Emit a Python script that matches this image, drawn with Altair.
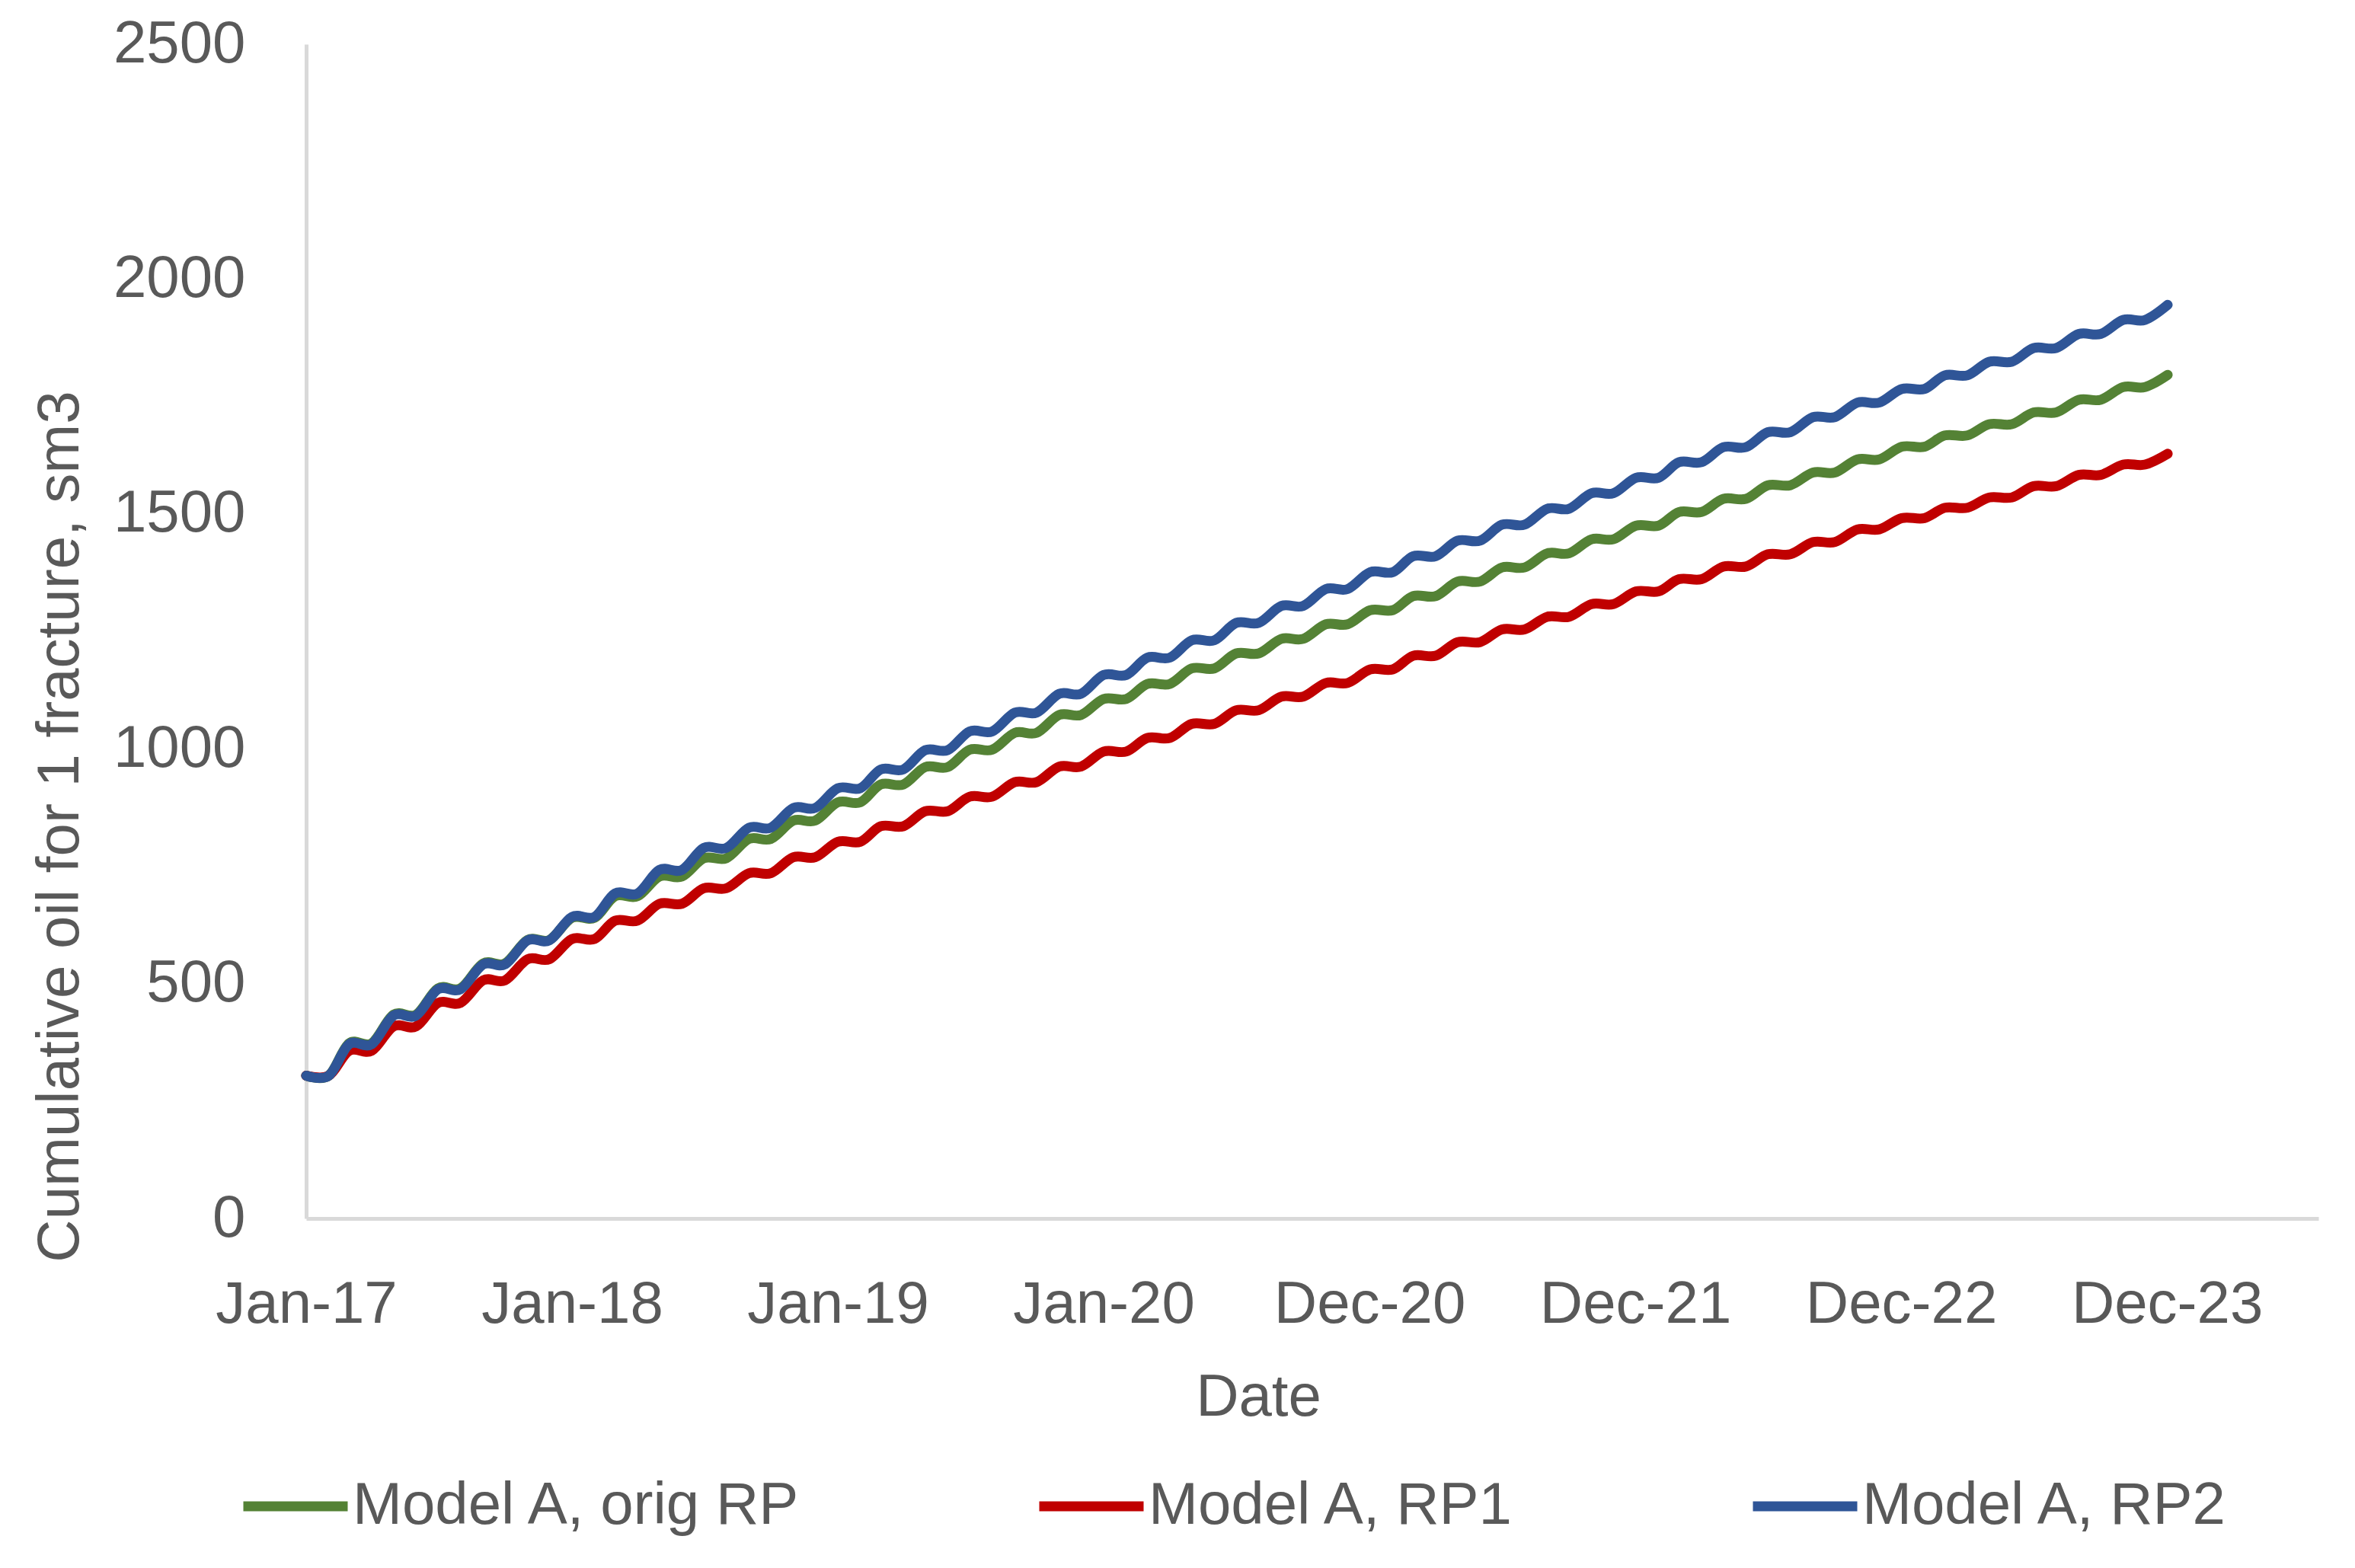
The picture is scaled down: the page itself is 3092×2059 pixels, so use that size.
import altair as alt
import pandas as pd

# Monthly dates (month starts) Jan-2017 .. Jan-2024
dates = pd.date_range("2017-01-01", periods=85, freq="MS").strftime("%Y-%m-%dT00:00:00").tolist()

series_names = ["Model A, orig RP", "Model A, RP1", "Model A, RP2"]
series_colors = ["#548235", "#C00000", "#2F5597"]

# Cumulative oil values (sm3), one per month
orig_rp = [304, 304, 373, 373, 434, 434, 490, 490, 543, 543, 593, 593, 640, 640, 686, 686,
           728, 728, 767, 767, 808, 808, 847, 847, 886, 886, 924, 924, 961, 961, 998, 998,
           1034, 1034, 1072, 1072, 1106, 1106, 1138, 1138, 1171, 1171, 1203, 1203, 1234, 1234,
           1265, 1265, 1295, 1295, 1325, 1325, 1356, 1356, 1386, 1386, 1416, 1416, 1446, 1446,
           1475, 1475, 1504, 1504, 1532, 1532, 1561, 1561, 1588, 1588, 1616, 1616, 1643, 1643,
           1667, 1667, 1691, 1691, 1716, 1716, 1743, 1743, 1770, 1770, 1796]
rp1 = [304, 304, 357, 357, 409, 409, 459, 459, 507, 507, 552, 552, 595, 595, 634, 634,
       670, 670, 703, 703, 735, 735, 769, 769, 802, 802, 835, 835, 867, 867, 898, 898,
       929, 929, 962, 962, 994, 994, 1023, 1023, 1053, 1053, 1082, 1082, 1111, 1111,
       1140, 1140, 1169, 1169, 1198, 1198, 1227, 1227, 1254, 1254, 1281, 1281, 1308, 1308,
       1335, 1335, 1361, 1361, 1388, 1388, 1414, 1414, 1440, 1440, 1467, 1467, 1491, 1491,
       1513, 1513, 1535, 1535, 1559, 1559, 1583, 1583, 1605, 1605, 1628]
rp2 = [304, 304, 371, 371, 432, 432, 488, 488, 541, 541, 592, 592, 642, 642, 692, 692,
       742, 742, 789, 789, 832, 832, 874, 874, 916, 916, 956, 956, 997, 997, 1037, 1037,
       1077, 1077, 1117, 1117, 1157, 1157, 1194, 1194, 1231, 1231, 1268, 1268, 1304, 1304,
       1340, 1340, 1376, 1376, 1410, 1410, 1443, 1443, 1477, 1477, 1511, 1511, 1544, 1544,
       1577, 1577, 1610, 1610, 1642, 1642, 1674, 1674, 1706, 1706, 1737, 1737, 1766, 1766,
       1795, 1795, 1824, 1824, 1853, 1853, 1883, 1883, 1913, 1913, 1945]

# Axis tick dates (365-day major unit as in the original)
tick_dates = [(2017, 1, 1), (2018, 1, 1), (2019, 1, 1), (2020, 1, 1),
              (2020, 12, 31), (2021, 12, 31), (2022, 12, 31), (2023, 12, 31)]
y_ticks = [0, 500, 1000, 1500, 2000, 2500]

rows = []
for name, vals in zip(series_names, [orig_rp, rp1, rp2]):
    for d, v in zip(dates, vals):
        rows.append({"date": d, "value": v, "series": name})
df = pd.DataFrame(rows)

FONT = "Liberation Sans, Arial, sans-serif"
FS = 78
TXT = "#595959"

chart = alt.Chart(df).mark_line(
    strokeWidth=13, interpolate="cardinal", strokeCap="round", strokeJoin="round"
).encode(
    x=alt.X(
        "date:T",
        scale=alt.Scale(domain=[alt.DateTime(year=2017, month=1, date=1),
                                alt.DateTime(year=2024, month=7, date=26)]),
        axis=alt.Axis(
            values=[alt.DateTime(year=y, month=m, date=d) for (y, m, d) in tick_dates],
            format="%b-%y", title="Date", labelBaseline="alphabetic", labelPadding=136,
            labelAlign="center", labelOverlap=False, labelFlush=False, labelLimit=1000,
            titleX=1250, titleY=258, titleBaseline="alphabetic", titleAlign="center",
        ),
    ),
    y=alt.Y(
        "value:Q",
        scale=alt.Scale(domain=[0, 2500], nice=False, zero=True),
        axis=alt.Axis(
            values=y_ticks, format="d", title="Cumulative oil for 1 fracture, sm3",
            labelPadding=80, labelLimit=1000, titleX=-300, titleY=1027, titleAngle=-90,
            titleBaseline="alphabetic", titleAlign="center", titleLimit=3000,
        ),
    ),
    color=alt.Color(
        "series:N",
        scale=alt.Scale(domain=series_names, range=series_colors),
        legend=alt.Legend(
            title=None, orient="none", direction="horizontal", legendX=-89, legendY=1845,
            symbolType="stroke", symbolStrokeWidth=13, symbolSize=18769,
            labelFontSize=FS, labelFont=FONT, labelColor=TXT, labelLimit=2000,
            labelOffset=0, columnPadding=285, padding=0,
        ),
    ),
).properties(
    width=2642, height=1542,
    autosize=alt.AutoSizeParams(type="none"),
    padding={"left": 394, "top": 50, "right": 40, "bottom": 440},
).configure_view(stroke=None).configure_axis(
    grid=False, ticks=False, domainColor="#D9D9D9", domainWidth=5,
    labelFont=FONT, titleFont=FONT, labelFontSize=FS, titleFontSize=FS,
    labelColor=TXT, titleColor=TXT, titleFontWeight="normal",
)

chart.save("out.html", embed_options={"renderer": "svg", "actions": False})
